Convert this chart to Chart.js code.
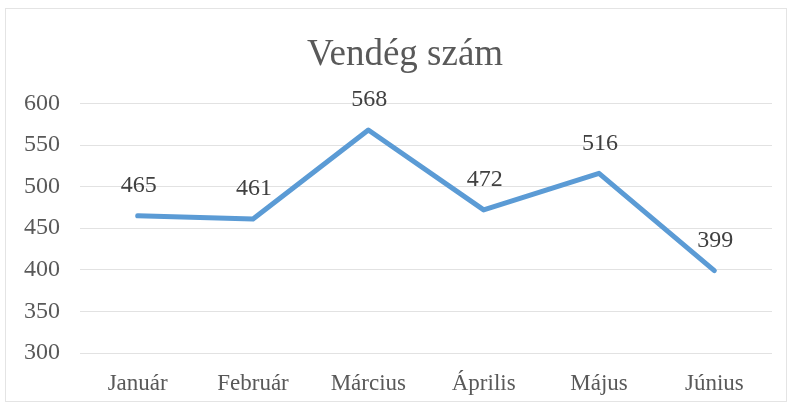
<!DOCTYPE html>
<html>
<head>
<meta charset="utf-8">
<script src="https://cdn.jsdelivr.net/npm/chart.js@4"></script>
<style>
    html, body { margin: 0; padding: 0; background: #fff; }
    #wrap { width: 789px; height: 405px; position: relative; }
</style>
</head>
<body>
<div id="wrap"><canvas id="guestChart"></canvas></div>
<script>
const months = ['Január', 'Február', 'Március', 'Április', 'Május', 'Június'];
const guests = [465, 461, 568, 472, 516, 399];
const yTicks = [300, 350, 400, 450, 500, 550, 600];

const serif = "'Liberation Serif', 'Times New Roman', serif";

// value labels above each point, placed from the points the library computed
const valueLabels = {
    id: 'valueLabels',
    afterDatasetsDraw(chart) {
        const ctx = chart.ctx;
        const meta = chart.getDatasetMeta(0);
        ctx.save();
        ctx.font = `24px ${serif}`;
        ctx.fillStyle = '#404040';
        ctx.textAlign = 'center';
        ctx.textBaseline = 'middle';
        meta.data.forEach((pt, i) => {
            ctx.fillText(String(guests[i]), pt.x + 1, pt.y - 30);
        });
        ctx.restore();
    }
};

// faint outer frame of the chart object
const frame = {
    id: 'frame',
    beforeDraw(chart) {
        const ctx = chart.ctx;
        ctx.save();
        ctx.strokeStyle = '#e4e4e4';
        ctx.lineWidth = 1;
        ctx.strokeRect(5.5, 8.5, chart.width - 8, chart.height - 12);
        ctx.restore();
    }
};

// the title in the original sits a bit right of the canvas centre
const titleShift = {
    id: 'titleShift',
    afterLayout(chart) {
        const t = chart.titleBlock;
        if (!t) return;
        t.left += 38;
        t.width = t.right - t.left;
    }
};

function initGuestChart() {
    const canvas = document.getElementById('guestChart');
    if (!canvas) return;

    new Chart(canvas.getContext('2d'), {
        type: 'line',
        data: {
            labels: months,
            datasets: [{
                label: 'Vendég szám',
                data: guests,
                borderColor: '#5b9bd5',
                borderWidth: 5,
                borderJoinStyle: 'round',
                borderCapStyle: 'round',
                pointRadius: 0,
                fill: false,
                tension: 0
            }]
        },
        options: {
            responsive: true,
            maintainAspectRatio: false,
            animation: false,
            layout: {
                padding: { left: 0, right: 17, top: 0, bottom: 0 }
            },
            plugins: {
                legend: { display: false },
                tooltip: { enabled: false },
                title: {
                    display: true,
                    text: 'Vendég szám',
                    color: '#595959',
                    font: { family: serif, size: 37, weight: 'normal' },
                    padding: { top: 33, bottom: 26 }
                }
            },
            scales: {
                x: {
                    offset: true,
                    grid: { display: false, drawTicks: false },
                    border: { display: false },
                    afterFit: axis => { axis.height = 52; },
                    ticks: {
                        color: '#595959',
                        font: { family: serif, size: 23 },
                        padding: 17,
                        maxRotation: 0
                    }
                },
                y: {
                    min: yTicks[0],
                    max: yTicks[yTicks.length - 1],
                    afterBuildTicks: axis => {
                        axis.ticks = yTicks.map(v => ({ value: v }));
                    },
                    afterFit: axis => { axis.width = 80; },
                    grid: { color: '#e2e2e2', lineWidth: 1, drawTicks: false },
                    border: { display: false },
                    ticks: {
                        color: '#595959',
                        font: { family: serif, size: 24 },
                        padding: 20
                    }
                }
            }
        },
        plugins: [frame, titleShift, valueLabels]
    });
}

document.addEventListener('DOMContentLoaded', () => {
    initGuestChart();
});
</script>
</body>
</html>
